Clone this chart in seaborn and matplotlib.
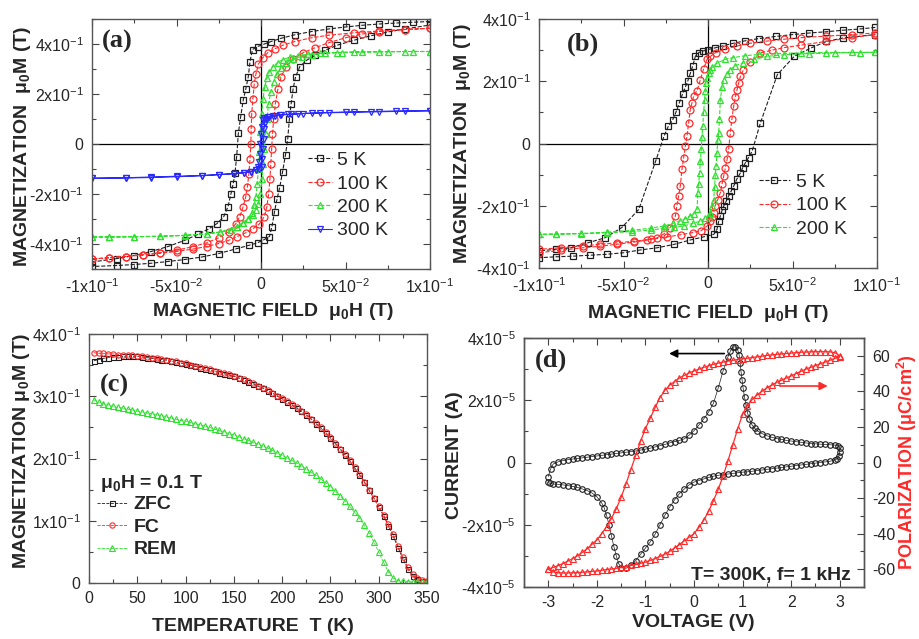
import numpy as np
import pandas as pd
import matplotlib
matplotlib.use('Agg')
import matplotlib.pyplot as plt
import seaborn as sns
from matplotlib.ticker import MultipleLocator

# ---- panel (a): M(H) loops, film 1 ----
A_5K_H_DOWN = [0.1, 0.09, 0.08, 0.07, 0.06, 0.05, 0.04, 0.03, 0.02, 0.012, 0.006, 0.002, -0.002, -0.005,
               -0.0065, -0.0075, -0.009, -0.0105, -0.012, -0.0134, -0.0144, -0.0154, -0.0165, -0.0178,
               -0.0195, -0.022, -0.026, -0.031, -0.037, -0.045, -0.055, -0.065, -0.075, -0.085, -0.1]
A_5K_M_DOWN = [0.49, 0.487, 0.484, 0.48, 0.475, 0.468, 0.46, 0.45, 0.437, 0.423, 0.41, 0.4, 0.39, 0.378,
               0.33, 0.27, 0.22, 0.176, 0.11, 0.043, -0.05, -0.117, -0.16, -0.2, -0.25, -0.29, -0.318,
               -0.34, -0.36, -0.385, -0.41, -0.43, -0.446, -0.458, -0.472]
A_5K_H_UP = [-0.1, -0.085, -0.075, -0.065, -0.055, -0.045, -0.035, -0.025, -0.015, -0.007, -0.002, 0.002,
             0.005, 0.0065, 0.008, 0.0095, 0.011, 0.0128, 0.0145, 0.0158, 0.0168, 0.0178, 0.019, 0.0205,
             0.023, 0.027, 0.032, 0.038, 0.045, 0.055, 0.065, 0.075, 0.085, 0.1]
A_5K_M_UP = [-0.49, -0.486, -0.482, -0.477, -0.47, -0.462, -0.452, -0.438, -0.42, -0.405, -0.395, -0.382,
             -0.37, -0.33, -0.27, -0.22, -0.176, -0.11, -0.043, 0.02, 0.1, 0.16, 0.22, 0.27, 0.31, 0.335,
             0.355, 0.375, 0.395, 0.415, 0.433, 0.448, 0.46, 0.476]

A_100K_H_DOWN = [0.1, 0.085, 0.07, 0.055, 0.04, 0.03, 0.02, 0.013, 0.008, 0.004, 0.001, -0.0015, -0.003,
                 -0.004, -0.0048, -0.0055, -0.0058, -0.006, -0.0065, -0.0072, -0.008, -0.009, -0.0105,
                 -0.0125, -0.015, -0.019, -0.025, -0.032, -0.04, -0.05, -0.06, -0.07, -0.08, -0.09, -0.1]
A_100K_M_DOWN = [0.463, 0.458, 0.452, 0.445, 0.435, 0.425, 0.41, 0.395, 0.38, 0.365, 0.345, 0.32, 0.28,
                 0.24, 0.18, 0.12, 0.06, 0.0, -0.06, -0.12, -0.17, -0.21, -0.25, -0.29, -0.32, -0.35,
                 -0.375, -0.395, -0.41, -0.425, -0.435, -0.443, -0.45, -0.455, -0.46]
A_100K_H_UP = [-0.1, -0.09, -0.08, -0.07, -0.06, -0.05, -0.04, -0.032, -0.025, -0.019, -0.014, -0.009,
               -0.005, -0.001, 0.002, 0.0035, 0.0045, 0.0053, 0.0058, 0.0063, 0.0068, 0.0075, 0.0085,
               0.01, 0.012, 0.015, 0.019, 0.025, 0.032, 0.04, 0.05, 0.06, 0.07, 0.085, 0.1]
A_100K_M_UP = [-0.46, -0.455, -0.45, -0.444, -0.437, -0.43, -0.42, -0.41, -0.398, -0.385, -0.37, -0.355,
               -0.34, -0.32, -0.29, -0.25, -0.2, -0.14, -0.08, -0.02, 0.04, 0.1, 0.16, 0.22, 0.27, 0.31,
               0.34, 0.365, 0.385, 0.405, 0.425, 0.44, 0.45, 0.458, 0.463]

A_200K_H_DOWN = [0.1, 0.085, 0.07, 0.055, 0.045, 0.035, 0.028, 0.022, 0.017, 0.013, 0.01, 0.007, 0.005,
                 0.0035, 0.0022, 0.0012, 0.0004, -0.0003, -0.001, -0.0016, -0.0022, -0.003, -0.004,
                 -0.0055, -0.0075, -0.0105, -0.014, -0.018, -0.024, -0.032, -0.045, -0.06, -0.075, -0.09, -0.1]
A_200K_M_DOWN = [0.37, 0.37, 0.369, 0.368, 0.366, 0.363, 0.359, 0.354, 0.347, 0.338, 0.326, 0.31, 0.29,
                 0.265, 0.23, 0.18, 0.12, 0.05, -0.03, -0.1, -0.16, -0.21, -0.245, -0.275, -0.298, -0.315,
                 -0.33, -0.342, -0.352, -0.36, -0.366, -0.369, -0.371, -0.372, -0.372]
A_200K_H_UP = [-0.1, -0.09, -0.075, -0.06, -0.045, -0.032, -0.024, -0.018, -0.014, -0.0105, -0.0075,
               -0.005, -0.003, -0.0015, -0.0003, 0.0006, 0.0013, 0.002, 0.0027, 0.0035, 0.0045, 0.0058,
               0.0075, 0.0095, 0.012, 0.015, 0.019, 0.024, 0.03, 0.038, 0.048, 0.06, 0.075, 0.09, 0.1]
A_200K_M_UP = [-0.372, -0.372, -0.371, -0.369, -0.365, -0.359, -0.352, -0.342, -0.33, -0.315, -0.3,
               -0.285, -0.265, -0.24, -0.2, -0.14, -0.08, -0.02, 0.04, 0.1, 0.16, 0.21, 0.25, 0.28, 0.305,
               0.325, 0.34, 0.35, 0.358, 0.363, 0.366, 0.368, 0.369, 0.37, 0.37]

A_300K_H_DOWN = [0.1, 0.085, 0.07, 0.055, 0.04, 0.03, 0.022, 0.016, 0.011, 0.007, 0.004, 0.002, 0.001,
                 0.0003, 0.0, -0.0003, -0.0006, -0.001, -0.0016, -0.003, -0.006, -0.01, -0.016, -0.025,
                 -0.035, -0.05, -0.065, -0.08, -0.1]
A_300K_M_DOWN = [0.133, 0.131, 0.129, 0.127, 0.125, 0.123, 0.121, 0.119, 0.117, 0.114, 0.11, 0.105, 0.095,
                 0.07, 0.04, 0.0, -0.04, -0.07, -0.09, -0.103, -0.11, -0.115, -0.119, -0.123, -0.127,
                 -0.131, -0.134, -0.136, -0.137]
A_300K_H_UP = [-0.1, -0.08, -0.065, -0.05, -0.035, -0.025, -0.016, -0.01, -0.006, -0.003, -0.001, 0.0003,
               0.0008, 0.0012, 0.0015, 0.0018, 0.0022, 0.003, 0.005, 0.008, 0.012, 0.018, 0.025, 0.035,
               0.05, 0.065, 0.08, 0.1]
A_300K_M_UP = [-0.137, -0.135, -0.132, -0.129, -0.126, -0.122, -0.118, -0.114, -0.11, -0.104, -0.098,
               -0.09, -0.06, -0.02, 0.02, 0.06, 0.085, 0.1, 0.107, 0.112, 0.116, 0.119, 0.122, 0.125,
               0.128, 0.13, 0.132, 0.133]

# ---- panel (b): M(H) loops, film 2 ----
B_5K_H_DOWN = [0.099, 0.09, 0.08, 0.07, 0.06, 0.05, 0.04, 0.03, 0.022, 0.015, 0.009, 0.004, 0.0, -0.003,
               -0.0055, -0.0075, -0.009, -0.0105, -0.012, -0.0135, -0.015, -0.017, -0.019, -0.021,
               -0.0235, -0.026, -0.031, -0.041, -0.051, -0.061, -0.071, -0.081, -0.09, -0.1]
B_5K_M_DOWN = [0.373, 0.368, 0.364, 0.359, 0.355, 0.35, 0.344, 0.337, 0.33, 0.322, 0.314, 0.307, 0.302,
               0.297, 0.292, 0.28, 0.25, 0.225, 0.2, 0.18, 0.16, 0.13, 0.1, 0.075, 0.055, 0.024, -0.057,
               -0.212, -0.27, -0.303, -0.319, -0.335, -0.34, -0.345]
B_5K_H_UP = [-0.1, -0.09, -0.08, -0.07, -0.06, -0.05, -0.04, -0.03, -0.02, -0.0105, -0.0026, 0.0034,
             0.0053, 0.0063, 0.0073, 0.0083, 0.0093, 0.0108, 0.0122, 0.0137, 0.0152, 0.017, 0.0192, 0.0205,
             0.0221, 0.024, 0.0261, 0.031, 0.041, 0.051, 0.061, 0.07, 0.08, 0.099]
B_5K_M_UP = [-0.367, -0.364, -0.362, -0.359, -0.356, -0.351, -0.342, -0.335, -0.324, -0.31, -0.3, -0.292,
             -0.276, -0.25, -0.233, -0.215, -0.201, -0.185, -0.169, -0.153, -0.137, -0.115, -0.094,
             -0.078, -0.062, -0.045, -0.025, 0.066, 0.221, 0.28, 0.307, 0.328, 0.339, 0.35]

B_100K_H_DOWN = [0.099, 0.085, 0.07, 0.055, 0.045, 0.035, 0.025, 0.017, 0.01, 0.0045, 0.0014, -0.0006,
                 -0.0026, -0.0045, -0.0065, -0.0085, -0.0095, -0.0105, -0.0115, -0.0124, -0.0134, -0.0144,
                 -0.0154, -0.0164, -0.0174, -0.0184, -0.0193, -0.0223, -0.026, -0.0302, -0.036, -0.044,
                 -0.054, -0.064, -0.074, -0.087, -0.1]
B_100K_M_DOWN = [0.355, 0.35, 0.345, 0.34, 0.335, 0.329, 0.322, 0.313, 0.303, 0.292, 0.28, 0.27, 0.24,
                 0.205, 0.17, 0.152, 0.13, 0.109, 0.065, 0.024, -0.009, -0.045, -0.083, -0.137, -0.169,
                 -0.2, -0.233, -0.27, -0.29, -0.303, -0.31, -0.317, -0.324, -0.33, -0.335, -0.343, -0.351]
B_100K_H_UP = [-0.1, -0.087, -0.074, -0.064, -0.054, -0.044, -0.034, -0.024, -0.016, -0.009, -0.004,
               -0.0006, 0.0014, 0.0024, 0.0034, 0.0043, 0.0058, 0.0073, 0.0083, 0.0093, 0.0103, 0.0113,
               0.0122, 0.0132, 0.0142, 0.0152, 0.0162, 0.0172, 0.0182, 0.0192, 0.021, 0.025, 0.031, 0.038,
               0.045, 0.055, 0.07, 0.085, 0.099]
B_100K_M_UP = [-0.34, -0.335, -0.329, -0.324, -0.319, -0.314, -0.308, -0.3, -0.293, -0.286, -0.28, -0.265,
               -0.25, -0.237, -0.222, -0.2, -0.18, -0.158, -0.13, -0.105, -0.078, -0.051, -0.019, 0.034,
               0.08, 0.12, 0.15, 0.173, 0.195, 0.216, 0.237, 0.262, 0.291, 0.3, 0.308, 0.316, 0.328, 0.34,
               0.35]

B_200K_H_DOWN = [0.099, 0.085, 0.07, 0.055, 0.04, 0.03, 0.022, 0.015, 0.01, 0.0053, 0.0025, 0.0014,
                 0.0004, -0.0006, -0.0012, -0.0016, -0.002, -0.0026, -0.0031, -0.0036, -0.004, -0.0045,
                 -0.005, -0.0055, -0.006, -0.0065, -0.0085, -0.0105, -0.0135, -0.0164, -0.021, -0.026,
                 -0.034, -0.045, -0.06, -0.075, -0.09, -0.1]
B_200K_M_DOWN = [0.293, 0.293, 0.292, 0.291, 0.289, 0.286, 0.282, 0.276, 0.27, 0.258, 0.245, 0.235,
                 0.225, 0.21, 0.195, 0.17, 0.141, 0.1, 0.056, 0.02, -0.019, -0.056, -0.094, -0.13, -0.158,
                 -0.212, -0.225, -0.233, -0.242, -0.249, -0.257, -0.265, -0.272, -0.279, -0.285, -0.289,
                 -0.291, -0.292]
B_200K_H_UP = [-0.1, -0.09, -0.075, -0.06, -0.045, -0.034, -0.026, -0.02, -0.0144, -0.009, -0.0045,
               -0.0016, 0.0004, 0.0014, 0.0024, 0.0034, 0.0039, 0.0043, 0.0048, 0.0053, 0.0058, 0.0063,
               0.0068, 0.0073, 0.0083, 0.0093, 0.0113, 0.0132, 0.016, 0.021, 0.027, 0.035, 0.045, 0.06,
               0.075, 0.09, 0.099]
B_200K_M_UP = [-0.292, -0.291, -0.29, -0.287, -0.283, -0.278, -0.273, -0.269, -0.265, -0.257, -0.249,
               -0.24, -0.232, -0.222, -0.2, -0.18, -0.14, -0.1, -0.073, -0.03, 0.01, 0.034, 0.08, 0.141,
               0.18, 0.205, 0.222, 0.237, 0.25, 0.259, 0.27, 0.28, 0.285, 0.289, 0.291, 0.292, 0.293]

# ---- panel (c): M(T) at 0.1 T ----
C_T = [5, 10, 15, 20, 25, 30, 35, 40, 45, 50, 55, 60, 65, 70, 75, 80, 85, 90, 95, 100,
       105, 110, 115, 120, 125, 130, 135, 140, 145, 150, 155, 160, 165, 170, 175, 180, 185, 190, 195, 200,
       205, 210, 215, 220, 225, 230, 235, 240, 245, 250, 255, 260, 265, 270, 275, 280, 285, 290, 295, 300,
       305, 310, 315, 320, 325, 330, 335, 340, 345, 350]
C_ZFC = [0.357, 0.359, 0.361, 0.362, 0.363, 0.363, 0.364, 0.364, 0.364, 0.364,
         0.363, 0.362, 0.361, 0.360, 0.359, 0.358, 0.356, 0.355, 0.353, 0.352,
         0.350, 0.348, 0.346, 0.344, 0.342, 0.340, 0.338, 0.336, 0.334, 0.332,
         0.329, 0.326, 0.323, 0.320, 0.316, 0.313, 0.309, 0.305, 0.300, 0.296,
         0.291, 0.286, 0.281, 0.276, 0.270, 0.263, 0.256, 0.249, 0.241, 0.233,
         0.224, 0.215, 0.206, 0.196, 0.185, 0.174, 0.162, 0.149, 0.136, 0.122,
         0.108, 0.092, 0.075, 0.057, 0.039, 0.023, 0.012, 0.007, 0.004, 0.003]
C_FC = [0.370, 0.369, 0.369, 0.368, 0.368, 0.367, 0.367, 0.366, 0.366, 0.365,
        0.364, 0.363, 0.362, 0.361, 0.360, 0.359, 0.357, 0.356, 0.354, 0.353,
        0.351, 0.349, 0.347, 0.345, 0.343, 0.341, 0.339, 0.337, 0.335, 0.333,
        0.330, 0.327, 0.324, 0.321, 0.317, 0.314, 0.310, 0.306, 0.301, 0.297,
        0.292, 0.287, 0.282, 0.277, 0.271, 0.264, 0.257, 0.250, 0.242, 0.234,
        0.225, 0.216, 0.207, 0.197, 0.186, 0.175, 0.163, 0.150, 0.137, 0.124,
        0.110, 0.095, 0.078, 0.060, 0.042, 0.026, 0.014, 0.008, 0.005, 0.004]
C_REM = [0.294, 0.291, 0.288, 0.286, 0.284, 0.282, 0.281, 0.279, 0.278, 0.276,
         0.275, 0.273, 0.272, 0.270, 0.269, 0.267, 0.265, 0.263, 0.261, 0.260,
         0.258, 0.256, 0.254, 0.252, 0.250, 0.247, 0.245, 0.243, 0.240, 0.238,
         0.235, 0.232, 0.229, 0.226, 0.223, 0.220, 0.217, 0.213, 0.209, 0.205,
         0.201, 0.197, 0.193, 0.188, 0.183, 0.178, 0.173, 0.167, 0.161, 0.155,
         0.148, 0.140, 0.132, 0.123, 0.114, 0.104, 0.093, 0.080, 0.066, 0.050,
         0.033, 0.018, 0.008, 0.004, 0.003, 0.002, 0.002, 0.002, 0.002, 0.002]

# ---- panel (d): I(V) and P(V), T = 300 K, 1 kHz ----
D_I_V_UP = [-3.0, -2.95, -2.9, -2.8, -2.7, -2.6, -2.5, -2.4, -2.3, -2.2, -2.1, -2.0, -1.9, -1.8, -1.7,
            -1.6, -1.5, -1.4, -1.3, -1.2, -1.1, -1.0, -0.9, -0.8, -0.7, -0.6, -0.5, -0.4, -0.3, -0.2,
            -0.1, 0.0, 0.1, 0.2, 0.3, 0.4, 0.5, 0.6, 0.7, 0.75, 0.8, 0.85, 0.9, 0.93, 0.95, 0.97, 0.99,
            1.01, 1.04, 1.07, 1.1, 1.14, 1.19, 1.25, 1.3, 1.4, 1.5, 1.6, 1.7, 1.8, 1.9, 2.0, 2.1, 2.2,
            2.3, 2.4, 2.5, 2.6, 2.7, 2.8, 2.9, 2.97, 3.0]
D_I_UP = [-0.45, -0.2, -0.05, 0.02, 0.06, 0.09, 0.11, 0.13, 0.15, 0.17, 0.19, 0.21, 0.23, 0.25, 0.27,
          0.29, 0.31, 0.33, 0.35, 0.37, 0.4, 0.43, 0.46, 0.5, 0.54, 0.58, 0.63, 0.67, 0.71, 0.76,
          0.88, 1.02, 1.2, 1.4, 1.62, 1.9, 2.4, 2.95, 3.4, 3.58, 3.7, 3.72, 3.62, 3.45, 3.2, 2.9, 2.65,
          2.4, 2.1, 1.85, 1.6, 1.4, 1.22, 1.1, 1.02, 0.93, 0.86, 0.81, 0.77, 0.74, 0.71, 0.69, 0.67,
          0.65, 0.63, 0.61, 0.6, 0.59, 0.58, 0.57, 0.56, 0.54, 0.48]
D_I_V_DOWN = [3.0, 2.98, 2.95, 2.9, 2.8, 2.7, 2.6, 2.5, 2.4, 2.3, 2.2, 2.1, 2.0, 1.9, 1.8, 1.7, 1.6,
              1.5, 1.4, 1.3, 1.2, 1.1, 1.0, 0.9, 0.8, 0.7, 0.6, 0.5, 0.4, 0.3, 0.2, 0.1, 0.0, -0.1,
              -0.2, -0.3, -0.4, -0.5, -0.6, -0.7, -0.8, -0.9, -1.0, -1.1, -1.2, -1.3, -1.4, -1.5, -1.55,
              -1.6, -1.65, -1.7, -1.75, -1.8, -1.85, -1.9, -2.0, -2.1, -2.2, -2.3, -2.4, -2.5, -2.6,
              -2.7, -2.8, -2.9, -2.97, -3.0]
D_I_DOWN = [0.35, 0.2, 0.12, 0.08, 0.04, 0.02, 0.0, -0.02, -0.04, -0.06, -0.08, -0.1, -0.12, -0.14,
            -0.16, -0.18, -0.2, -0.22, -0.24, -0.26, -0.28, -0.3, -0.31, -0.33, -0.35, -0.37, -0.39,
            -0.41, -0.44, -0.48, -0.53, -0.58, -0.63, -0.72, -0.85, -1.0, -1.2, -1.43, -1.7, -2.0,
            -2.3, -2.55, -2.75, -2.95, -3.15, -3.3, -3.4, -3.38, -3.25, -3.0, -2.7, -2.35, -2.0, -1.7,
            -1.45, -1.3, -1.1, -0.98, -0.9, -0.85, -0.8, -0.77, -0.74, -0.72, -0.7, -0.69, -0.67, -0.62]

D_P_V_UP = [-3.0, -2.9, -2.8, -2.7, -2.6, -2.5, -2.4, -2.3, -2.2, -2.1, -2.0, -1.9, -1.8, -1.7, -1.6,
            -1.5, -1.4, -1.3, -1.2, -1.1, -1.0, -0.9, -0.8, -0.7, -0.6, -0.5, -0.4, -0.3, -0.2, -0.1,
            0.0, 0.1, 0.2, 0.3, 0.4, 0.5, 0.6, 0.7, 0.8, 0.9, 1.0, 1.1, 1.2, 1.3, 1.4, 1.5, 1.6, 1.7,
            1.8, 1.9, 2.0, 2.1, 2.2, 2.3, 2.4, 2.5, 2.6, 2.7, 2.8, 2.9, 3.0]
D_P_UP = [-60.0, -61.5, -62.0, -62.1, -62.1, -62.0, -61.9, -61.7, -61.5, -61.2,
          -61.0, -60.6, -60.2, -59.9, -59.5, -59.0, -58.5, -57.9, -57.3, -56.7,
          -56.0, -55.0, -54.0, -52.8, -51.5, -50.0, -48.0, -46.2, -44.0, -42.0,
          -40.0, -36.5, -32.5, -27.5, -21.5, -15.0, -7.5, 1.0, 10.0, 19.0,
          27.0, 32.0, 35.5, 38.0, 40.0, 42.0, 43.5, 45.0, 46.3, 47.5,
          48.7, 50.0, 51.2, 52.5, 53.5, 54.5, 55.5, 56.5, 57.5, 58.5, 59.5]
D_P_V_DOWN = D_P_V_UP[::-1]
D_P_DOWN = [60.0, 61.8, 62.2, 62.3, 62.3, 62.3, 62.2, 62.1, 62.0, 61.8,
            61.5, 61.3, 61.0, 60.8, 60.5, 60.2, 59.8, 59.4, 59.0, 58.6,
            58.3, 57.9, 57.5, 57.0, 56.5, 55.9, 55.2, 54.4, 53.5, 52.5,
            51.5, 50.3, 49.0, 47.5, 45.5, 43.5, 40.5, 36.5, 31.0, 25.0,
            19.0, 12.0, 4.0, -4.0, -12.0, -19.5, -26.0, -31.5, -36.0, -40.0,
            -43.5, -46.0, -48.5, -50.5, -52.5, -54.0, -55.5, -56.8, -58.0, -59.0, -60.0]

# tick labels
FIELD_TICKS = [-0.1, -0.05, 0, 0.05, 0.1]
FIELD_LABELS = ['-1x10$^{-1}$', '-5x10$^{-2}$', '0', '5x10$^{-2}$', '1x10$^{-1}$']
MAG_TICKS = [-0.4, -0.2, 0, 0.2, 0.4]
MAG_LABELS = ['-4x10$^{-1}$', '-2x10$^{-1}$', '0', '2x10$^{-1}$', '4x10$^{-1}$']
MT_TICKS = [0, 0.1, 0.2, 0.3, 0.4]
MT_LABELS = ['0', '1x10$^{-1}$', '2x10$^{-1}$', '3x10$^{-1}$', '4x10$^{-1}$']
TEMP_TICKS = [0, 50, 100, 150, 200, 250, 300, 350]
CUR_TICKS = [-4, -2, 0, 2, 4]
CUR_LABELS = ['-4x10$^{-5}$', '-2x10$^{-5}$', '0', '2x10$^{-5}$', '4x10$^{-5}$']
VOLT_TICKS = [-3, -2, -1, 0, 1, 2, 3]
POL_TICKS = [-60, -40, -20, 0, 20, 40, 60]

BLACK = '#1e1e1e'
RED = '#ff2a2a'
GREEN = '#2fe02f'
BLUE = '#2a2aff'

sns.set_style('ticks')
plt.rcParams['font.family'] = ['Liberation Sans', 'DejaVu Sans']
plt.rcParams['mathtext.fontset'] = 'custom'
plt.rcParams['mathtext.rm'] = 'Liberation Sans'
plt.rcParams['mathtext.it'] = 'Liberation Sans:italic'
plt.rcParams['mathtext.bf'] = 'Liberation Sans:bold'
plt.rcParams['mathtext.default'] = 'regular'

W, H = 919, 639
fig = plt.figure(figsize=(W / 100, H / 100), dpi=100)


def add_ax(l, t, r, b):
    return fig.add_axes([l / W, (H - b) / H, (r - l) / W, (b - t) / H])


def curve(ax, x, y, color, marker, ls='--', label=None, ms=5, lw=0.8, mew=0.9):
    sns.lineplot(x=x, y=y, sort=False, estimator=None, ax=ax, legend=False, color=color,
                 linestyle=ls, linewidth=lw, marker=marker, markersize=ms,
                 markerfacecolor='none', markeredgecolor=color, markeredgewidth=mew, label=label)


def frame(ax, xlim, ylim, xt, xl, yt, yl, xmin, ymin, right=True):
    ax.set_xlim(xlim)
    ax.set_ylim(ylim)
    ax.set_xticks(xt, xl)
    ax.set_yticks(yt, yl)
    ax.xaxis.set_minor_locator(MultipleLocator(xmin))
    ax.yaxis.set_minor_locator(MultipleLocator(ymin))
    ax.tick_params(which='both', direction='in', top=True, right=right, width=0.8, color='#444444')
    ax.tick_params(which='major', length=5, labelsize=11.5, pad=6)
    ax.tick_params(which='minor', length=3)
    for sp in ax.spines.values():
        sp.set_linewidth(1.0)
        sp.set_color('#555555')


lab = dict(fontsize=14, fontweight='bold')
tag = dict(fontsize=19, fontweight='bold', family='Liberation Serif')

# (a)
ax = add_ax(92, 19, 430, 269)
ax.axhline(0, color='black', lw=0.9, zorder=0)
ax.axvline(0, color='black', lw=0.9, zorder=0)
curve(ax, A_5K_H_DOWN + A_5K_H_UP, A_5K_M_DOWN + A_5K_M_UP, BLACK, 's', label='5 K')
curve(ax, A_100K_H_DOWN + A_100K_H_UP, A_100K_M_DOWN + A_100K_M_UP, RED, 'o', label='100 K')
curve(ax, A_200K_H_DOWN + A_200K_H_UP, A_200K_M_DOWN + A_200K_M_UP, GREEN, '^', label='200 K')
curve(ax, A_300K_H_DOWN + A_300K_H_UP, A_300K_M_DOWN + A_300K_M_UP, BLUE, 'v', ls='-', label='300 K')
frame(ax, (-0.1, 0.1), (-0.5, 0.5), FIELD_TICKS, FIELD_LABELS, MAG_TICKS, MAG_LABELS, 0.025, 0.1)
ax.set_xlabel('MAGNETIC FIELD  μ$_0$H (T)', **lab)
ax.set_ylabel('MAGNETIZATION  μ$_0$M (T)', **lab)
ax.xaxis.set_label_coords(0.535, -0.13)
ax.yaxis.set_label_coords(-0.175, 0.49)
ax.text(0.03, 0.91, '(a)', transform=ax.transAxes, va='center', **tag)
ax.legend(loc='upper left', bbox_to_anchor=(0.64, 0.47), frameon=False, fontsize=14,
          handlelength=1.2, handletextpad=0.3, labelspacing=0.3, borderpad=0, borderaxespad=0)

# (b)
ax = add_ax(539, 19, 877, 268)
ax.axhline(0, color='black', lw=0.9, zorder=0)
ax.axvline(0, color='black', lw=0.9, zorder=0)
curve(ax, B_5K_H_DOWN + B_5K_H_UP, B_5K_M_DOWN + B_5K_M_UP, BLACK, 's', label='5 K')
curve(ax, B_100K_H_DOWN + B_100K_H_UP, B_100K_M_DOWN + B_100K_M_UP, RED, 'o', label='100 K')
curve(ax, B_200K_H_DOWN + B_200K_H_UP, B_200K_M_DOWN + B_200K_M_UP, GREEN, '^', label='200 K')
frame(ax, (-0.1, 0.1), (-0.4, 0.4), FIELD_TICKS, FIELD_LABELS, MAG_TICKS, MAG_LABELS, 0.025, 0.1)
ax.set_xlabel('MAGNETIC FIELD  μ$_0$H (T)', **lab)
ax.set_ylabel('MAGNETIZATION  μ$_0$M (T)', **lab)
ax.xaxis.set_label_coords(0.5, -0.14)
ax.yaxis.set_label_coords(-0.195, 0.5)
ax.text(0.083, 0.9, '(b)', transform=ax.transAxes, va='center', **tag)
ax.legend(loc='upper left', bbox_to_anchor=(0.65, 0.38), frameon=False, fontsize=14,
          handlelength=1.6, handletextpad=0.3, labelspacing=0.3, borderpad=0, borderaxespad=0)

# (c)
ax = add_ax(89, 334, 427, 583)
curve(ax, C_T, C_ZFC, BLACK, 's', label='ZFC', ms=3.6, lw=0.6, mew=0.8)
curve(ax, C_T, C_FC, RED, 'o', label='FC', ms=3.8, lw=0.6, mew=0.8)
curve(ax, C_T, C_REM, GREEN, '^', label='REM', ms=4.2, lw=0.6, mew=0.8)
frame(ax, (0, 350), (0, 0.4), TEMP_TICKS, [str(t) for t in TEMP_TICKS], MT_TICKS, MT_LABELS, 25, 0.05)
ax.set_xlabel('TEMPERATURE  T (K)', **lab)
ax.set_ylabel('MAGNETIZATION μ$_0$M (T)', **lab)
ax.xaxis.set_label_coords(0.485, -0.14)
ax.yaxis.set_label_coords(-0.169, 0.53)
ax.text(0.033, 0.795, '(c)', transform=ax.transAxes, va='center', **tag)
ax.text(0.033, 0.382, 'μ$_0$H = 0.1 T', transform=ax.transAxes, fontsize=14, fontweight='bold')
ax.legend(loc='upper left', bbox_to_anchor=(0.025, 0.35), frameon=False,
          prop={'weight': 'bold', 'size': 14}, handlelength=1.5, handletextpad=0.35,
          labelspacing=0.25, borderpad=0, borderaxespad=0)

# (d)
ax = add_ax(524, 338, 864, 587)
curve(ax, D_I_V_UP + D_I_V_DOWN, D_I_UP + D_I_DOWN, BLACK, 'o', ls='-', ms=4, lw=0.5, mew=0.8)
frame(ax, (-3.5, 3.5), (-4, 4), VOLT_TICKS, [str(v) for v in VOLT_TICKS], CUR_TICKS, CUR_LABELS,
      0.5, 1, right=False)
ax.set_xlabel('VOLTAGE (V)', **lab)
ax.set_ylabel('CURRENT (A)', **lab)
ax.xaxis.set_label_coords(0.497, -0.11)
ax.yaxis.set_label_coords(-0.18, 0.53)
ax.annotate('', xy=(-0.57, 3.5), xytext=(0.68, 3.5),
            arrowprops=dict(arrowstyle='-|>', color='black', lw=1.2, mutation_scale=12))
ax.text(0.032, 0.91, '(d)', transform=ax.transAxes, va='center', **tag)
ax.text(0.96, 0.03, 'T= 300K, f= 1 kHz', transform=ax.transAxes, ha='right', va='baseline',
        fontsize=14, fontweight='bold')

ax2 = ax.twinx()
curve(ax2, D_P_V_UP + D_P_V_DOWN, D_P_UP + D_P_DOWN, RED, '^', ls='-', ms=4.2, lw=0.9, mew=0.8)
ax2.set_ylim(-70, 70)
ax2.set_yticks(POL_TICKS, [str(p) for p in POL_TICKS])
ax2.yaxis.set_minor_locator(MultipleLocator(10))
ax2.tick_params(which='both', direction='in', width=0.8, color='#444444')
ax2.tick_params(which='major', length=5, labelsize=11.5, pad=6)
ax2.tick_params(which='minor', length=3)
for sp in ax2.spines.values():
    sp.set_linewidth(1.0)
    sp.set_color('#555555')
ax2.set_ylabel('POLARIZATION (μC/cm$^2$)', color=RED, fontsize=13, fontweight='bold')
ax2.yaxis.set_label_coords(1.09, 0.5)
ax2.annotate('', xy=(2.81, 43), xytext=(1.71, 43),
             arrowprops=dict(arrowstyle='-|>', color=RED, lw=1.2, mutation_scale=12))

fig.savefig('out.png', dpi=100, facecolor='white')
